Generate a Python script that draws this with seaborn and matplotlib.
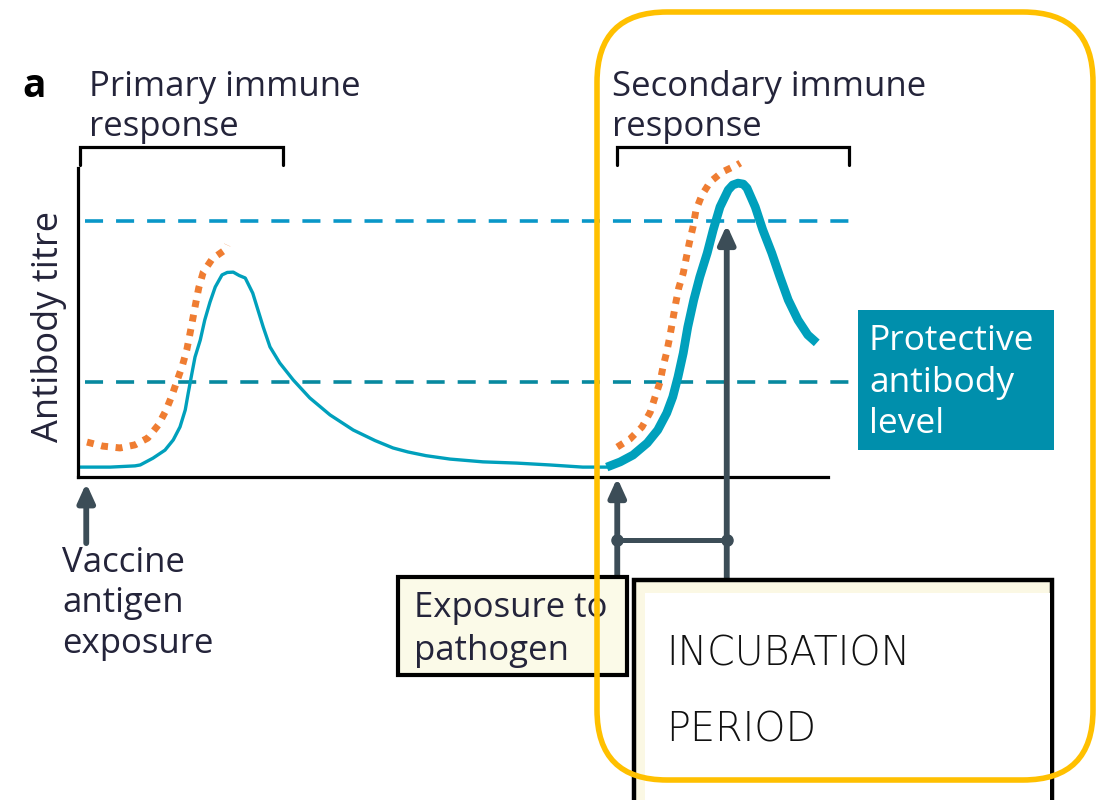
import numpy as np
import pandas as pd
import matplotlib
matplotlib.use("Agg")
import matplotlib.pyplot as plt
import seaborn as sns
from matplotlib.patches import Rectangle, FancyBboxPatch

sns.set_theme(style="white")
plt.rcParams['font.family'] = ['Open Sans', 'DejaVu Sans']

# ---------------- data (time in arbitrary units 0-100, titre 0-100) ----------------
primary_time = [0.3, 4.3, 7.6, 8.3, 10.0, 11.6, 12.7, 13.6, 14.3, 14.7, 15.2, 15.6, 16.3,
                16.9, 17.6, 18.3, 19.2, 19.9, 20.7, 21.5, 22.3, 23.3, 24.0, 24.7, 25.6,
                26.9, 28.7, 30.9, 33.6, 36.7, 39.6, 42.0, 44.0, 46.4, 49.6, 54.0, 58.5,
                62.9, 67.3, 70.9]
primary_titre = [3.2, 3.2, 3.6, 3.9, 6.1, 8.7, 12.0, 16.2, 21.7, 27.2, 33.7, 38.8, 44.3,
                 50.8, 56.6, 61.5, 65.4, 66.2, 66.3, 65.2, 64.4, 59.5, 54.0, 48.5, 42.1,
                 36.9, 31.4, 25.6, 20.1, 15.2, 11.8, 9.4, 8.1, 6.9, 5.8, 4.9, 4.5,
                 3.9, 3.2, 3.2]

secondary_time = [70.5, 72.3, 74.0, 75.9, 77.3, 78.5, 79.3, 80.0, 80.7, 81.3, 82.1, 82.9,
                  83.9, 84.7, 85.6, 86.7, 87.3, 88.0, 88.7, 89.2, 90.3, 91.3, 92.5, 93.6,
                  94.7, 96.0, 97.3, 98.5]
secondary_titre = [3.2, 4.9, 7.1, 11.0, 15.2, 20.7, 25.9, 32.4, 40.1, 48.5, 57.3, 64.7,
                   72.5, 80.0, 87.4, 92.9, 94.5, 95.1, 94.8, 93.5, 87.4, 80.0, 72.5, 64.7,
                   57.3, 50.8, 46.0, 43.4]

primary_fast_time = [1.2, 3.3, 5.6, 7.6, 9.3, 10.7, 11.7, 12.5, 13.2, 13.9, 14.5, 14.9,
                     15.3, 15.7, 16.1, 16.7, 17.9, 19.6, 19.9]
primary_fast_titre = [11.3, 10.0, 9.4, 10.4, 12.6, 16.8, 21.4, 26.2, 31.1, 35.9, 41.1, 46.0,
                      51.1, 56.3, 61.2, 66.3, 70.6, 73.5, 75.1]

secondary_fast_time = [71.9, 73.6, 75.2, 76.3, 76.9, 77.6, 78.0, 78.5, 78.9, 79.3, 79.7,
                       80.1, 80.7, 81.1, 81.5, 82.0, 82.4, 83.2, 84.3, 85.9, 87.9, 88.3]
secondary_fast_titre = [9.7, 12.3, 16.2, 21.0, 25.6, 30.7, 35.6, 40.5, 45.3, 50.8, 56.3,
                        61.2, 66.0, 70.9, 75.7, 80.9, 86.4, 91.3, 95.5, 98.7, 101.0, 101.6]

protective_levels = [82.8, 30.7]
vaccine_time = 1.1
exposure_time = 71.9
peak_time = 86.5

# ---------------- colours ----------------
TEAL = '#00a0bc'
ORANGE = '#ef7d32'
DASH_TOP = '#0a97c8'
DASH_LOW = '#07899f'
SLATE = '#3c4d57'
TXT = '#24243a'
BOXTEAL = '#008fac'
YELLOW = '#ffc000'

fig = plt.figure(figsize=(10.99, 8), dpi=100)
fig.patch.set_facecolor('white')

# chart axes placed at the plotting area
ax = fig.add_axes([78 / 1099, (800 - 477) / 800, 750 / 1099, 309 / 800])
ax.set_xlim(0, 100)
ax.set_ylim(0, 100)
ax.patch.set_alpha(0)
for s in ['top', 'right']:
    ax.spines[s].set_visible(False)
for s in ['left', 'bottom']:
    ax.spines[s].set_color('black')
    ax.spines[s].set_linewidth(2.3)
ax.set_xticks([])
ax.set_yticks([])

# protective antibody levels
ax.hlines(protective_levels[0], 0.9, 102.9, colors=DASH_TOP, lw=2.6,
          linestyles=(0, (5.0, 3.6)), clip_on=False)
ax.hlines(protective_levels[1], 0.9, 104.0, colors=DASH_LOW, lw=2.6,
          linestyles=(0, (5.0, 3.6)), clip_on=False)

# curves
sns.lineplot(x=primary_time, y=primary_titre, ax=ax, color=TEAL, lw=2.4,
             sort=False, estimator=None, clip_on=False, solid_joinstyle='round')
sns.lineplot(x=secondary_time, y=secondary_titre, ax=ax, color=TEAL, lw=6.3,
             sort=False, estimator=None, clip_on=False, solid_capstyle='butt',
             solid_joinstyle='round')
sns.lineplot(x=primary_fast_time, y=primary_fast_titre, ax=ax, color=ORANGE, lw=5.0,
             sort=False, estimator=None, clip_on=False,
             linestyle=(0, (1.0, 1.1)), dash_capstyle='butt')
sns.lineplot(x=secondary_fast_time, y=secondary_fast_titre, ax=ax, color=ORANGE, lw=5.0,
             sort=False, estimator=None, clip_on=False,
             linestyle=(0, (1.0, 1.1)), dash_capstyle='butt')
ax.set_xlabel('')
ax.set_ylabel('')

# arrows
ap = dict(arrowstyle='-|>,head_length=0.55,head_width=0.25', color=SLATE, lw=4.2,
          shrinkA=0, shrinkB=0, mutation_scale=20)
ax.annotate('', xy=(vaccine_time, -2.0), xytext=(vaccine_time, -21.4),
            arrowprops=ap, annotation_clip=False)
ax.annotate('', xy=(exposure_time, -0.3), xytext=(exposure_time, -33.0),
            arrowprops=ap, annotation_clip=False)
ax.annotate('', xy=(peak_time, 81.6), xytext=(peak_time, -33.6),
            arrowprops=ap, annotation_clip=False)
ax.plot([exposure_time, peak_time], [-20.4, -20.4], color=SLATE, lw=3.6,
        marker='o', ms=8, clip_on=False)

# ---------------- overlay for annotations (pixel layout) ----------------
ov = fig.add_axes([0, 0, 1, 1])
ov.set_xlim(0, 1099)
ov.set_ylim(800, 0)
ov.set_axis_off()

# y label
ov.text(58, 326, 'Antibody titre', fontsize=26, color=TXT, rotation=90,
        rotation_mode='anchor', ha='center', va='baseline')

# brackets
ov.plot([80, 80, 283, 283], [165, 147, 147, 165], color='black', lw=2.3,
        solid_joinstyle='miter')
ov.plot([617, 617, 849, 849], [165, 147, 147, 165], color='black', lw=2.3,
        solid_joinstyle='miter')

ov.text(22, 97, 'a', fontsize=28, fontweight='bold', color='black', va='baseline')
for t, y in [('Primary immune', 96), ('response', 136)]:
    ov.text(89, y, t, fontsize=25, color=TXT, va='baseline')
for t, y in [('Secondary immune', 96), ('response', 136)]:
    ov.text(612, y, t, fontsize=25, color=TXT, va='baseline')
for t, y in [('Vaccine', 572), ('antigen', 612), ('exposure', 653)]:
    ov.text(62, y, t, fontsize=25, color=TXT, va='baseline')

# protective box
ov.add_patch(Rectangle((858, 310), 196, 140, facecolor=BOXTEAL, edgecolor='none'))
for t, y in [('Protective', 350), ('antibody', 392), ('level', 433)]:
    ov.text(869, y, t, fontsize=25.5, color='white', va='baseline')

# exposure box
ov.add_patch(Rectangle((398, 577), 229, 98, facecolor='#fbfae8', edgecolor='black', lw=3))
for t, y in [('Exposure to', 617), ('pathogen', 660)]:
    ov.text(414, y, t, fontsize=25, color=TXT, va='baseline')

# incubation box
ov.add_patch(Rectangle((634, 580), 418, 240, facecolor='#fbf8e4', edgecolor='black',
                       lw=3.2))
ov.add_patch(Rectangle((645, 593), 405, 230, facecolor='white', edgecolor='none'))
ov.text(666, 665, 'INCUBATION', fontsize=28.5, color='#111111', va='baseline',
        family=['DejaVu Sans'], fontweight='light')
ov.text(666, 742, 'PERIOD', fontsize=28.5, color='#111111', va='baseline',
        family=['DejaVu Sans'], fontweight='light')

# yellow highlight frame
ov.add_patch(FancyBboxPatch((597, 12), 496, 768,
                            boxstyle='round,pad=0,rounding_size=70',
                            facecolor='none', edgecolor=YELLOW, lw=4, zorder=10))

fig.savefig('out.png', dpi=100, facecolor='white')
